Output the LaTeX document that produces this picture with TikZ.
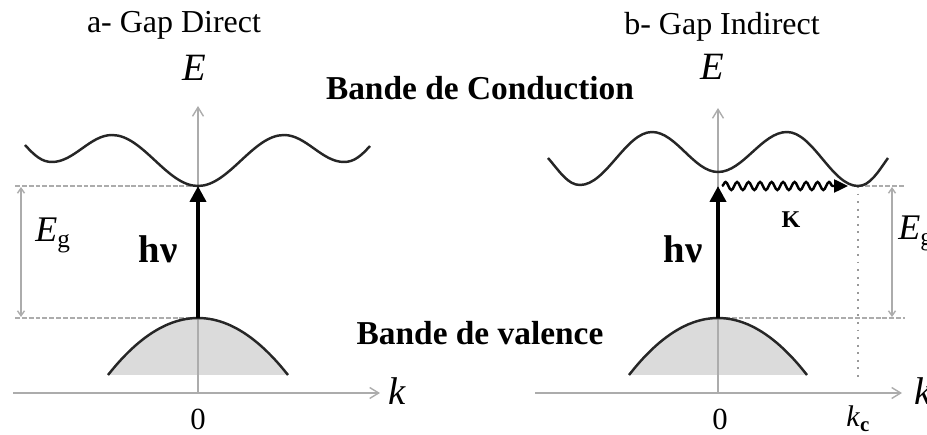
\documentclass[tikz,border=0pt]{standalone}
\usepackage{fontspec}
\setmainfont{Liberation Serif}
\usetikzlibrary{arrows.meta, positioning, decorations.pathmorphing}

\begin{document}
\begin{tikzpicture}[
    x=0.02cm, y=-0.02cm,
    axis/.style={draw=gray!65, line width=0.8pt, -{Straight Barb[length=1.8mm, width=2.2mm]}},
    band/.style={draw=black!85, line width=1.4pt},
    valfill/.style={fill=gray!28},
    level/.style={draw=gray!65, line width=0.8pt, dash pattern=on 2.8pt off 1.1pt},
    kline/.style={draw=gray!80, line width=1.1pt, dash pattern=on 1.1pt off 3.2pt},
    gaparrow/.style={draw=gray!65, line width=0.8pt, {Straight Barb[length=1mm, width=1.4mm]}-{Straight Barb[length=1mm, width=1.4mm]}},
    photon/.style={draw=black, line width=2.4pt, -{Triangle[length=3.2mm, width=3.2mm]}},
    phonon/.style={draw=black, line width=1.4pt, -{Triangle[length=2.8mm, width=2.6mm]}, decorate,
        decoration={snake, amplitude=0.8mm, segment length=2.3mm, post length=3mm}},
    lbl/.style={inner sep=0pt, anchor=base},
    title/.style={lbl, font=\fontsize{18.2}{20}\selectfont},
    bandlabel/.style={lbl, font=\fontsize{19}{21}\selectfont\bfseries},
    axislabel/.style={lbl, font=\fontsize{22}{24}\selectfont\itshape},
    numlabel/.style={lbl, font=\fontsize{17.5}{19}\selectfont},
    gaplabel/.style={lbl, anchor=base west, font=\fontsize{20.5}{22}\selectfont},
    photonlabel/.style={lbl, font=\fontsize{22}{24}\selectfont\bfseries},
    phononlabel/.style={lbl, font=\fontsize{13.7}{15}\selectfont\bfseries}
]
    \useasboundingbox (0,0) rectangle (927,435);

    % a- gap direct
    \coordinate (oA) at (198,393);
    \coordinate (kA) at (380,393);
    \coordinate (kA0) at (13,393);
    \coordinate (eA) at (198,106);
    \coordinate (cbA) at (198,186);
    \coordinate (vbA) at (198,318);
    \coordinate (cbA0) at (15,186);
    \coordinate (vbA0) at (15,318);

    \fill[valfill] plot[smooth, domain=-90:90] ({198+\x},{318+57*(\x/90)^2}) -- cycle;
    \draw[level] (cbA0) -- (cbA);
    \draw[level] (vbA0) -- (vbA);
    \draw[gaparrow] (21,187) -- (21,317);
    \draw[axis] (kA0) -- (kA);
    \draw[axis] (oA) -- (eA);
    \draw[band] plot[smooth, domain=-90:90] ({198+\x},{318+57*(\x/90)^2});
    \draw[band] (25,145) .. controls (35,156) and (42,162) .. (52,162)
        .. controls (74,162) and (90,135) .. (112,135)
        .. controls (143,135) and (167,186) .. (cbA)
        .. controls (229,186) and (253,135) .. (284,135)
        .. controls (306,135) and (322,162) .. (344,162)
        .. controls (354,162) and (361,156) .. (370,146);
    \draw[photon] (vbA) -- (cbA);

    \node[title] (titleA) at (174,33) {a- Gap Direct};
    \node[axislabel] (labEA) at (194,81) {E};
    \node[axislabel, anchor=base west] (labkA) at (388,405) {k};
    \node[numlabel] (zeroA) at (198,430) {0};
    \node[gaplabel] (labEgA) at (35,242) {\textit{E}\textsubscript{g}};
    \node[photonlabel] (labhvA) at (158,263) {hν};

    % b- gap indirect
    \coordinate (oB) at (718,393);
    \coordinate (kB) at (902,393);
    \coordinate (kB0) at (535,393);
    \coordinate (eB) at (718,108);
    \coordinate (cbB) at (858,186);
    \coordinate (vbB) at (718,318);
    \coordinate (gapB) at (718,186);
    \coordinate (cbB1) at (905,186);
    \coordinate (vbB1) at (905,318);
    \coordinate (kcB) at (858,382);

    \fill[valfill] plot[smooth, domain=-89:89] ({718+\x},{318+57*(\x/89)^2}) -- cycle;
    \draw[level] (cbB) -- (cbB1);
    \draw[level] (vbB) -- (vbB1);
    \draw[kline] (cbB) -- (kcB);
    \draw[gaparrow] (892,187) -- (892,317);
    \draw[axis] (kB0) -- (kB);
    \draw[axis] (oB) -- (eB);
    \draw[band] plot[smooth, domain=-89:89] ({718+\x},{318+57*(\x/89)^2});
    \draw[band] (548,158) .. controls (560,172) and (568,185) .. (580,185)
        .. controls (606,185) and (626,132) .. (652,132)
        .. controls (676,132) and (694,172) .. (718,172)
        .. controls (743,172) and (762,132) .. (787,132)
        .. controls (813,132) and (832,186) .. (cbB)
        .. controls (870,186) and (878,172) .. (888,158);
    \draw[photon] (vbB) -- (gapB);
    \draw[phonon] ([xshift=0.08cm]gapB) -- ([xshift=-0.2cm]cbB);

    \node[title] (titleB) at (722,35) {b- Gap Indirect};
    \node[axislabel] (labEB) at (712,80) {E};
    \node[axislabel, anchor=base west] (labkB) at (914,405) {k};
    \node[numlabel] (zeroB) at (720,430) {0};
    \node[gaplabel] (labEgB) at (898,240) {\textit{E}\textsubscript{g}};
    \node[photonlabel] (labhvB) at (683,263) {hν};
    \node[phononlabel] (labK) at (791,228) {K};
    \node[lbl, anchor=base west, font=\fontsize{17}{19}\selectfont] (labkc) at (846,427) {\textit{k}\textsubscript{\textbf{c}}};

    % band names
    \node[bandlabel] (labCB) at (480,100) {Bande de Conduction};
    \node[bandlabel] (labVB) at (480,345) {Bande de valence};
\end{tikzpicture}
\end{document}
